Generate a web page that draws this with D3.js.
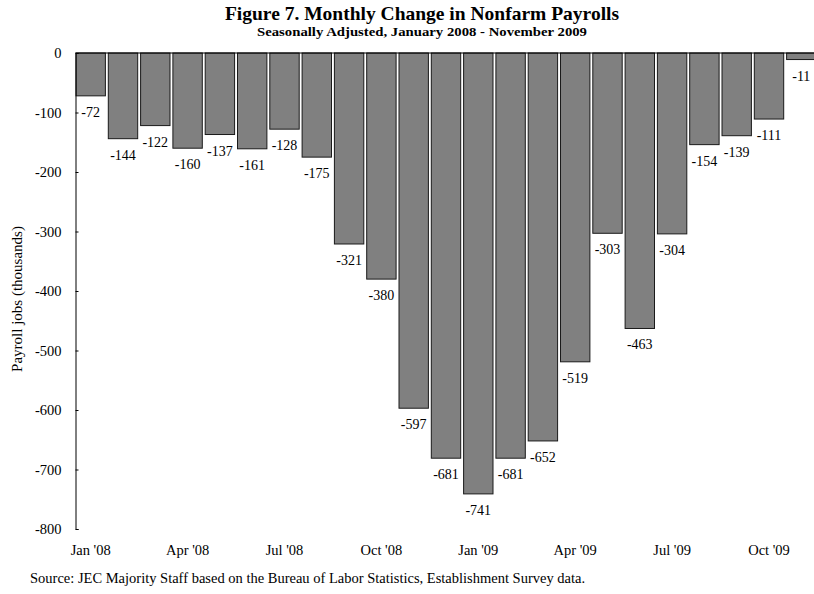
<!DOCTYPE html>
<html>
<head>
<meta charset="utf-8">
<script src="https://cdn.jsdelivr.net/npm/d3@7"></script>
<style>
  html, body { margin: 0; padding: 0; background: #fff; }
  svg { display: block; font-family: "Liberation Serif", "Times New Roman", serif; }
</style>
</head>
<body>
<svg id="chart" width="814" height="594"></svg>
<script>
const months = ["Jan '08","Feb '08","Mar '08","Apr '08","May '08","Jun '08","Jul '08","Aug '08","Sep '08","Oct '08","Nov '08","Dec '08",
                "Jan '09","Feb '09","Mar '09","Apr '09","May '09","Jun '09","Jul '09","Aug '09","Sep '09","Oct '09","Nov '09"];
const payrollChange = [-72,-144,-122,-160,-137,-161,-128,-175,-321,-380,-597,-681,
                       -741,-681,-652,-519,-303,-463,-304,-154,-139,-111,-11];
const xTickLabels = ["Jan '08","Apr '08","Jul '08","Oct '08","Jan '09","Apr '09","Jul '09","Oct '09"];
const yTicks = [0,-100,-200,-300,-400,-500,-600,-700,-800];

const titleText = "Figure 7. Monthly Change in Nonfarm Payrolls";
const subtitleText = "Seasonally Adjusted, January 2008 - November 2009";
const yAxisTitle = "Payroll jobs (thousands)";
const sourceText = "Source: JEC Majority Staff based on the Bureau of Labor Statistics, Establishment Survey data.";

const svg = d3.select("#chart");
const FONT = "Liberation Serif";

const x = d3.scaleBand().domain(months).range([76, 816]).paddingInner(0.09).paddingOuter(0);
const y = d3.scaleLinear().domain([-800, 0]).range([529, 53]);

// Title
svg.append("text").attr("x", 422).attr("y", 20).attr("text-anchor", "middle")
  .attr("font-weight", "bold").attr("font-size", 19.5).text(titleText);
svg.append("text").attr("x", 422).attr("y", 36).attr("text-anchor", "middle")
  .attr("font-weight", "bold").attr("font-size", 13)
  .attr("textLength", 330).attr("lengthAdjust", "spacingAndGlyphs").text(subtitleText);

// Bars
svg.append("g").selectAll("rect").data(payrollChange).join("rect")
  .attr("x", (d, i) => x(months[i]))
  .attr("y", y(0))
  .attr("width", x.bandwidth())
  .attr("height", d => y(d) - y(0))
  .attr("fill", "#808080")
  .attr("stroke", "#1a1a1a")
  .attr("stroke-width", 1);

// Value labels
svg.append("g").selectAll("text").data(payrollChange).join("text")
  .attr("x", (d, i) => x(months[i]) + x.bandwidth() / 2)
  .attr("y", d => y(d) + 21)
  .attr("text-anchor", "middle")
  .attr("font-size", 14)
  .text(d => String(d));

// Zero line
svg.append("line").attr("x1", 75.5).attr("x2", 814).attr("y1", y(0)).attr("y2", y(0))
  .attr("stroke", "#000").attr("stroke-width", 1);

// Y axis
const yAxis = d3.axisRight(y).tickValues(yTicks).tickSize(3).tickFormat(d => String(d));
const gy = svg.append("g").attr("transform", "translate(75.5,0)").call(yAxis);
gy.attr("font-family", FONT);
gy.select(".domain").attr("stroke", "#000");
gy.selectAll(".tick line").attr("stroke", "#000");
gy.selectAll(".tick text").attr("x", -14).attr("text-anchor", "end")
  .attr("font-size", 14.5).attr("fill", "#000");

// X axis labels
const xAxis = d3.axisBottom(x).tickValues(xTickLabels).tickSize(0).tickPadding(0);
const gx = svg.append("g").attr("transform", "translate(0,545)").call(xAxis);
gx.attr("font-family", FONT);
gx.select(".domain").remove();
gx.selectAll(".tick text").attr("font-size", 14.5).attr("fill", "#000");

// Y axis title
svg.append("text").attr("transform", "translate(22,299) rotate(-90)")
  .attr("text-anchor", "middle").attr("font-size", 15).text(yAxisTitle);

// Source
svg.append("text").attr("x", 30).attr("y", 583).attr("font-size", 14.5).text(sourceText);
</script>
</body>
</html>
